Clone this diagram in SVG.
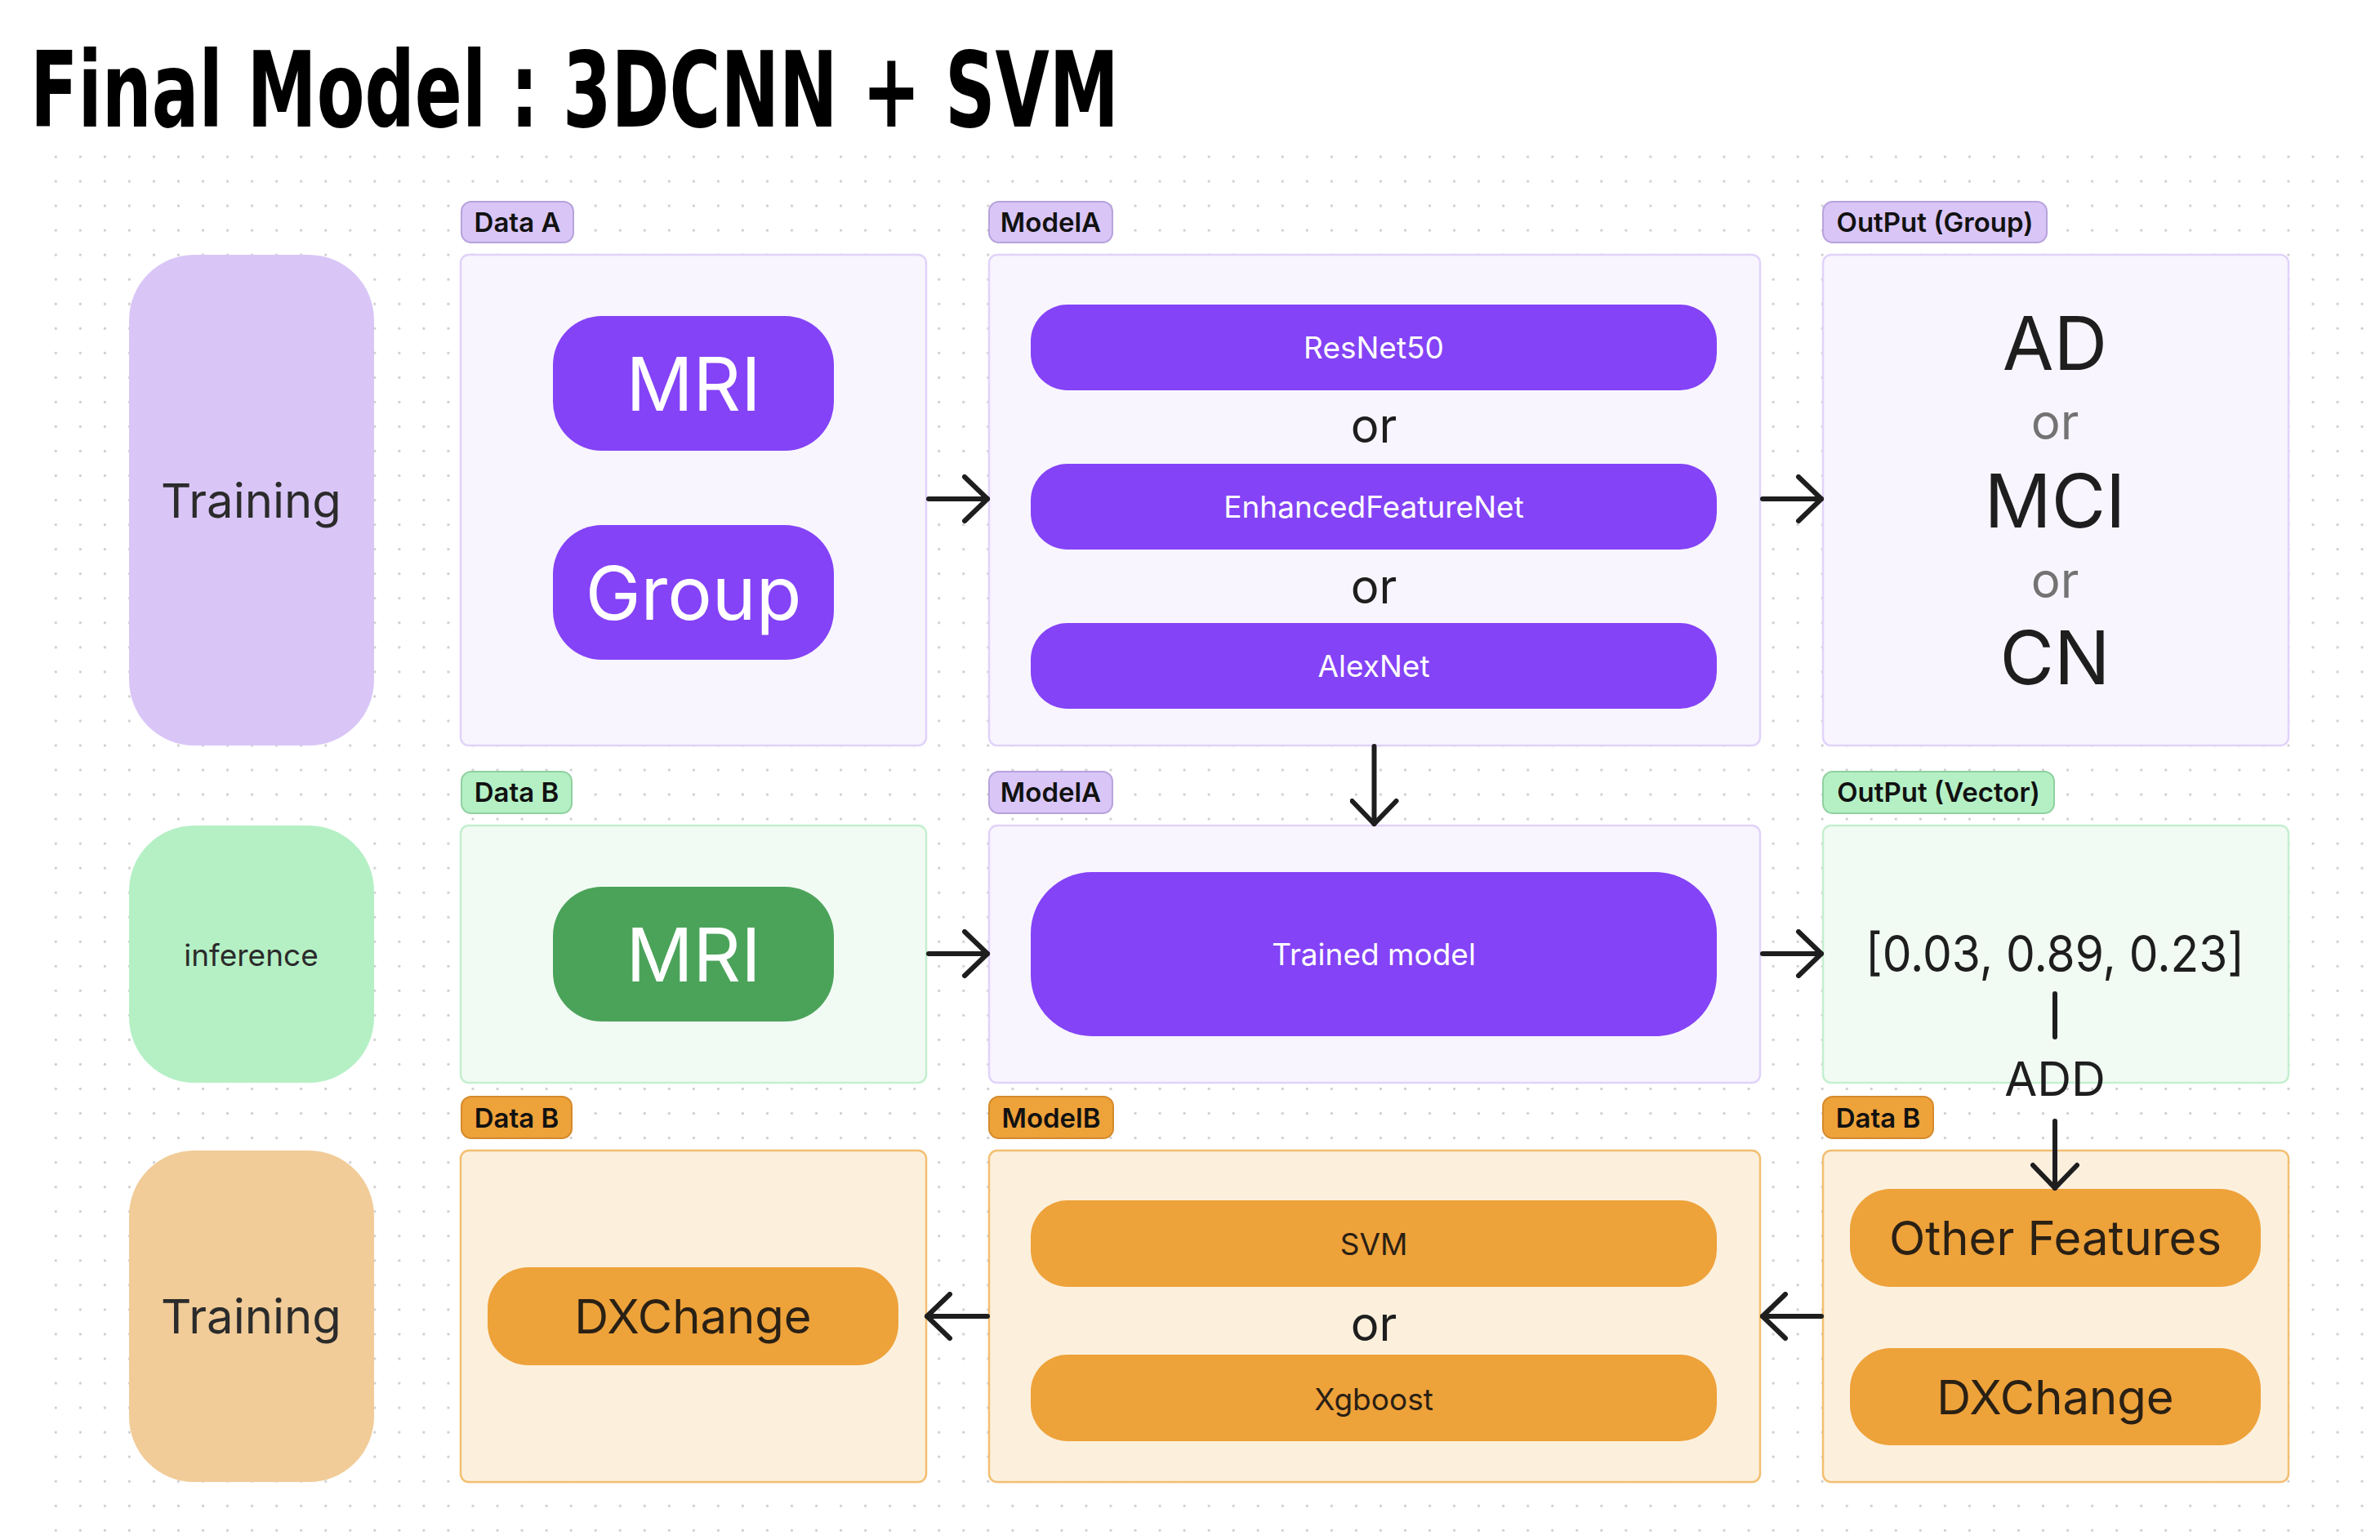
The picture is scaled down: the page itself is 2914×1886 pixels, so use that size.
<svg xmlns="http://www.w3.org/2000/svg" width="2914" height="1886" viewBox="0 0 2914 1886">
<defs>
  <pattern id="dots" patternUnits="userSpaceOnUse" x="53.3" y="177" width="30.04" height="30.04">
    <circle cx="15" cy="15" r="1.6" fill="#cdcdcd"/>
  </pattern>
  <marker id="ah" markerUnits="userSpaceOnUse" viewBox="0 0 40 60" markerWidth="40" markerHeight="60" refX="34" refY="30" orient="auto">
    <path d="M6,3 L34,30 L6,57" fill="none" stroke="#1e1e1e" stroke-width="6" stroke-linecap="round" stroke-linejoin="round"/>
  </marker>
  <style>
    text { font-family: Inter, "Noto Sans", "Liberation Sans", sans-serif; }
    .title { font-family: "DejaVu Sans Condensed", "DejaVu Sans", sans-serif; font-weight: bold; font-size: 128px; fill: #000; }
    .lab { font-size: 33px; font-weight: 600; fill: #111; text-anchor: middle; }
    .labP { fill: #d9c6f7; stroke: #b7a2dc; stroke-width: 2; }
    .labG { fill: #b5f0c5; stroke: #8fd0a0; stroke-width: 2; }
    .labO { fill: #eea23a; stroke: #d48a2c; stroke-width: 2; }
    .boxP { fill: #f8f5fe; stroke: #e1d3fa; stroke-width: 2.5; }
    .boxG { fill: #f1fbf3; stroke: #c4efcf; stroke-width: 2.5; }
    .boxO { fill: #fcf0dd; stroke: #f3bf72; stroke-width: 2.5; }
    .sideP { fill: #d9c6f7; }
    .sideG { fill: #b5f0c5; }
    .sideO { fill: #f1cc98; }
    .side { fill: #2b2b2b; text-anchor: middle; }
    .purple { fill: #8443f6; }
    .green { fill: #4ba35a; }
    .orange { fill: #eea23a; }
    .wt { fill: #ffffff; text-anchor: middle; }
    .dk { fill: #1e1e1e; text-anchor: middle; }
    .odk { fill: #2a2014; text-anchor: middle; }
    .gray { fill: #737373; text-anchor: middle; }
    .conn { stroke: #1e1e1e; stroke-width: 6; stroke-linecap: round; fill: none; }
  </style>
</defs>

<rect x="0" y="0" width="2914" height="1886" fill="#ffffff"/>
<rect x="53" y="177" width="2855" height="1713" fill="url(#dots)"/>

<text class="title" x="37" y="155" textLength="1333" lengthAdjust="spacingAndGlyphs">Final Model : 3DCNN + SVM</text>

<!-- Row 1 -->
<g id="training-1">
  <rect class="sideP" x="158" y="312" width="300" height="601" rx="80"/>
  <text class="side" x="307.5" y="634" font-size="58">Training</text>
</g>
<g id="label-data-a">
  <rect class="labP" x="565" y="247" width="137" height="50" rx="12"/>
  <text class="lab" x="633.5" y="284">Data A</text>
</g>
<g id="data-a">
  <rect class="boxP" x="564" y="312" width="570" height="601" rx="10"/>
  <rect class="purple" x="677" y="387" width="344" height="165" rx="60"/>
  <text class="wt" x="849" y="503" font-size="91">MRI</text>
  <rect class="purple" x="677" y="643" width="344" height="165" rx="60"/>
  <text class="wt" x="849" y="759" font-size="91">Group</text>
</g>
<g id="label-model-a-1">
  <rect class="labP" x="1211" y="247" width="151" height="50" rx="12"/>
  <text class="lab" x="1286.5" y="284">ModelA</text>
</g>
<g id="model-a-1">
  <rect class="boxP" x="1211" y="312" width="944" height="601" rx="10"/>
  <rect class="purple" x="1262" y="373" width="840" height="105" rx="45"/>
  <text class="wt" x="1682" y="439" font-size="37">ResNet50</text>
  <text class="dk" x="1682" y="542" font-size="58">or</text>
  <rect class="purple" x="1262" y="568" width="840" height="105" rx="45"/>
  <text class="wt" x="1682" y="634" font-size="37">EnhancedFeatureNet</text>
  <text class="dk" x="1682" y="739" font-size="58">or</text>
  <rect class="purple" x="1262" y="763" width="840" height="105" rx="45"/>
  <text class="wt" x="1682" y="829" font-size="37">AlexNet</text>
</g>
<g id="label-output-group">
  <rect class="labP" x="2232" y="247" width="274" height="50" rx="12"/>
  <text class="lab" x="2369" y="284">OutPut (Group)</text>
</g>
<g id="output-group">
  <rect class="boxP" x="2232" y="312" width="570" height="601" rx="10"/>
  <text class="dk" x="2516" y="453" font-size="91">AD</text>
  <text class="gray" x="2516" y="538" font-size="60">or</text>
  <text class="dk" x="2516" y="646" font-size="91">MCI</text>
  <text class="gray" x="2516" y="732" font-size="60">or</text>
  <text class="dk" x="2516" y="838" font-size="91">CN</text>
</g>

<!-- Row 2 -->
<g id="inference">
  <rect class="sideG" x="158" y="1011" width="300" height="315" rx="80"/>
  <text class="side" x="307.5" y="1183" font-size="37">inference</text>
</g>
<g id="label-data-b-green">
  <rect class="labG" x="565" y="945" width="135" height="51" rx="12"/>
  <text class="lab" x="632.5" y="982">Data B</text>
</g>
<g id="data-b-green">
  <rect class="boxG" x="564" y="1011" width="570" height="315" rx="10"/>
  <rect class="green" x="677" y="1086" width="344" height="165" rx="60"/>
  <text class="wt" x="849" y="1202" font-size="91">MRI</text>
</g>
<g id="label-model-a-2">
  <rect class="labP" x="1211" y="945" width="151" height="51" rx="12"/>
  <text class="lab" x="1286.5" y="982">ModelA</text>
</g>
<g id="model-a-2">
  <rect class="boxP" x="1211" y="1011" width="944" height="315" rx="10"/>
  <rect class="purple" x="1262" y="1068" width="840" height="201" rx="75"/>
  <text class="wt" x="1682" y="1182" font-size="37">Trained model</text>
</g>
<g id="label-output-vector">
  <rect class="labG" x="2232" y="945" width="283" height="51" rx="12"/>
  <text class="lab" x="2373.5" y="982">OutPut (Vector)</text>
</g>
<g id="output-vector">
  <rect class="boxG" x="2232" y="1011" width="570" height="315" rx="10"/>
  <text class="dk" x="2516" y="1190" font-size="62" textLength="464" lengthAdjust="spacingAndGlyphs">[0.03, 0.89, 0.23]</text>
</g>

<!-- Row 3 -->
<g id="training-2">
  <rect class="sideO" x="158" y="1409" width="300" height="406" rx="80"/>
  <text class="side" x="307.5" y="1633" font-size="58">Training</text>
</g>
<g id="label-data-b-orange-1">
  <rect class="labO" x="565" y="1343" width="135" height="51" rx="12"/>
  <text class="lab" x="632.5" y="1381">Data B</text>
</g>
<g id="data-b-orange-1">
  <rect class="boxO" x="564" y="1409" width="570" height="406" rx="10"/>
  <rect class="orange" x="597" y="1552" width="503" height="120" rx="50"/>
  <text class="odk" x="848.5" y="1633" font-size="58">DXChange</text>
</g>
<g id="label-model-b">
  <rect class="labO" x="1211" y="1343" width="152" height="51" rx="12"/>
  <text class="lab" x="1287" y="1381">ModelB</text>
</g>
<g id="model-b">
  <rect class="boxO" x="1211" y="1409" width="944" height="406" rx="10"/>
  <rect class="orange" x="1262" y="1470" width="840" height="106" rx="45"/>
  <text class="odk" x="1682" y="1537" font-size="37">SVM</text>
  <text class="dk" x="1682" y="1642" font-size="58">or</text>
  <rect class="orange" x="1262" y="1659" width="840" height="106" rx="45"/>
  <text class="odk" x="1682" y="1727" font-size="37">Xgboost</text>
</g>
<g id="label-data-b-orange-2">
  <rect class="labO" x="2232" y="1343" width="135" height="51" rx="12"/>
  <text class="lab" x="2299.5" y="1381">Data B</text>
</g>
<g id="data-b-orange-2">
  <rect class="boxO" x="2232" y="1409" width="570" height="406" rx="10"/>
  <rect class="orange" x="2265" y="1456" width="503" height="120" rx="50"/>
  <text class="odk" x="2516.5" y="1537" font-size="58">Other Features</text>
  <rect class="orange" x="2265" y="1651" width="503" height="119" rx="50"/>
  <text class="odk" x="2516.5" y="1732" font-size="58">DXChange</text>
</g>

<!-- Connectors -->
<g id="connectors">
  <line class="conn" x1="1137" y1="611" x2="1209" y2="611" marker-end="url(#ah)"/>
  <line class="conn" x1="2158" y1="611" x2="2230" y2="611" marker-end="url(#ah)"/>
  <line class="conn" x1="1682.5" y1="914" x2="1682.5" y2="1009" marker-end="url(#ah)"/>
  <line class="conn" x1="1137" y1="1168" x2="1209" y2="1168" marker-end="url(#ah)"/>
  <line class="conn" x1="2158" y1="1168" x2="2230" y2="1168" marker-end="url(#ah)"/>
  <line class="conn" x1="1209" y1="1612" x2="1135" y2="1612" marker-end="url(#ah)"/>
  <line class="conn" x1="2230" y1="1612" x2="2158" y2="1612" marker-end="url(#ah)"/>
  <line class="conn" x1="2516" y1="1217" x2="2516" y2="1270"/>
  <line class="conn" x1="2516" y1="1373" x2="2516" y2="1455" marker-end="url(#ah)"/>
  <text class="dk" x="2516" y="1342" font-size="58">ADD</text>
</g>
</svg>
